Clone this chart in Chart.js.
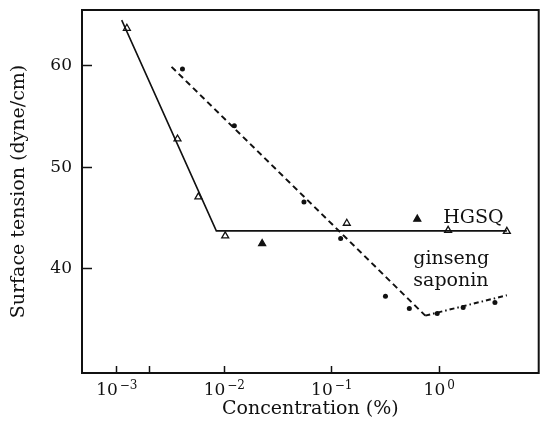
<!DOCTYPE html>
<html>
<head>
<meta charset="utf-8">
<script src="https://cdn.jsdelivr.net/npm/chart.js@4/dist/chart.umd.min.js"></script>
<style>
  html, body { margin: 0; padding: 0; background: #fff; }
  #wrap { width: 544px; height: 429px; position: relative; }
</style>
</head>
<body>
<div id="wrap"><canvas id="tensionChart"></canvas></div>
<script>
// HGSQ measurements (concentration %, surface tension)
const hgsqConc = [0.00124, 0.00367, 0.00574, 0.0102, 0.0225, 0.138, 0.625, 1.21, 4.26];
const hgsqTension = [63.7, 52.8, 47.1, 43.25, 42.5, 44.5, 44.9, 43.8, 43.7];
const hgsqFilled = [false, false, false, false, true, false, true, false, false];

// HGSQ fitted line
const hgsqFitConc = [0.00111, 0.00843, 4.26];
const hgsqFitTension = [64.5, 43.75, 43.75];

// ginseng saponin measurements
const saponinConc = [0.00408, 0.0124, 0.0551, 0.121, 0.316, 0.527, 0.958, 1.67, 3.3];
const saponinTension = [59.7, 54.1, 46.6, 43.0, 37.3, 36.1, 35.6, 36.2, 36.7];

// ginseng saponin fitted line (kink at the CMC)
const saponinFitConc = [0.00323, 0.742, 4.26];
const saponinFitTension = [59.9, 35.4, 37.4];

// axes: x ticks are powers of ten, exponent written as a superscript
const xTicks = [0.001, 0.002, 0.01, 0.1, 1];
const xTickExponents = ["\u22123", null, "\u22122", "\u22121", "0"];
const yTicks = [40, 50, 60];

// curve labels placed in data space
const curveLabels = [
  { text: "HGSQ", x: 1.09, y: 45.0 },
  { text: "ginseng", x: 0.574, y: 41.0 },
  { text: "saponin", x: 0.574, y: 38.8 },
];

const serif = "'DejaVu Serif', 'Liberation Serif', serif";

function pts(xs, ys) {
  return xs.map((x, i) => ({ x: x, y: ys[i] }));
}

const framePlugin = {
  id: "frame",
  afterDatasetsDraw(chart) {
    const { ctx, chartArea: a, scales } = chart;
    ctx.save();
    ctx.strokeStyle = "#111";
    ctx.lineWidth = 2;
    ctx.strokeRect(a.left, a.top, a.right - a.left, a.bottom - a.top);
    ctx.fillStyle = "#111";
    ctx.font = "19px " + serif;
    ctx.textAlign = "left";
    ctx.textBaseline = "middle";
    curveLabels.forEach((l) => {
      ctx.fillText(l.text, scales.x.getPixelForValue(l.x), scales.y.getPixelForValue(l.y));
    });
    ctx.restore();
  },
  afterDraw(chart) {
    // "10" with a raised exponent under each decade tick
    const { ctx, scales } = chart;
    const base = scales.x.bottom - 34;
    ctx.save();
    ctx.fillStyle = "#111";
    ctx.textBaseline = "alphabetic";
    ctx.textAlign = "left";
    xTicks.forEach((v, i) => {
      const exp = xTickExponents[i];
      if (exp === null) return;
      ctx.font = "17px " + serif;
      const w10 = ctx.measureText("10").width;
      ctx.font = "12px " + serif;
      const wExp = ctx.measureText(exp).width;
      const left = scales.x.getPixelForValue(v) - (w10 + 2 + wExp) / 2;
      ctx.font = "17px " + serif;
      ctx.fillText("10", left, base);
      ctx.font = "12px " + serif;
      ctx.fillText(exp, left + w10 + 2, base - 6);
    });
    ctx.restore();
  },
};

new Chart(document.getElementById("tensionChart"), {
  type: "scatter",
  data: {
    datasets: [
      {
        data: pts(hgsqFitConc, hgsqFitTension),
        showLine: true,
        borderColor: "#111",
        borderWidth: 1.6,
        pointRadius: 0,
      },
      {
        data: pts(saponinFitConc, saponinFitTension),
        showLine: true,
        borderColor: "#111",
        borderWidth: 2,
        pointRadius: 0,
        segment: {
          borderDash: (ctx) => (ctx.p0DataIndex === 1 ? [5, 3, 1.5, 3] : [6, 4]),
        },
      },
      {
        data: pts(hgsqConc, hgsqTension),
        pointStyle: "triangle",
        pointRadius: 4,
        borderWidth: 1.3,
        borderColor: "#111",
        backgroundColor: hgsqFilled.map((f) => (f ? "#111" : "#fff")),
      },
      {
        data: pts(saponinConc, saponinTension),
        pointStyle: "circle",
        pointRadius: 2.5,
        borderWidth: 0,
        backgroundColor: "#111",
      },
    ],
  },
  options: {
    responsive: true,
    maintainAspectRatio: false,
    animation: false,
    devicePixelRatio: 1,
    layout: { padding: { top: 10, right: 2, left: 0, bottom: 0 } },
    plugins: {
      legend: { display: false },
      tooltip: { enabled: false },
    },
    scales: {
      x: {
        type: "logarithmic",
        min: 0.000474,
        max: 8.43,
        afterBuildTicks: (scale) => {
          scale.ticks = xTicks.map((v) => ({ value: v }));
        },
        afterFit: (scale) => {
          scale.height = 56;
          scale.paddingLeft = 0;
          scale.paddingRight = 0;
        },
        border: { display: false },
        grid: {
          drawOnChartArea: false,
          color: "#111",
          tickLength: -7,
          tickWidth: 1.5,
        },
        ticks: {
          display: false,
          autoSkip: false,
        },
        title: {
          display: true,
          text: "Concentration (%)",
          color: "#111",
          font: { family: serif, size: 19 },
          padding: { top: 0, bottom: 9 },
        },
      },
      y: {
        min: 29.75,
        max: 65.5,
        afterBuildTicks: (scale) => {
          scale.ticks = yTicks.map((v) => ({ value: v }));
        },
        afterFit: (scale) => {
          scale.width = 82;
          scale.paddingTop = 0;
          scale.paddingBottom = 0;
        },
        border: { display: false },
        grid: {
          drawOnChartArea: false,
          color: "#111",
          tickLength: -10,
          tickWidth: 1.5,
        },
        ticks: {
          color: "#111",
          padding: 20,
          font: { family: serif, size: 17 },
        },
        title: {
          display: true,
          text: "Surface tension (dyne/cm)",
          color: "#111",
          font: { family: serif, size: 19 },
          padding: { top: 8, bottom: 0 },
        },
      },
    },
  },
  plugins: [framePlugin],
});
</script>
</body>
</html>
